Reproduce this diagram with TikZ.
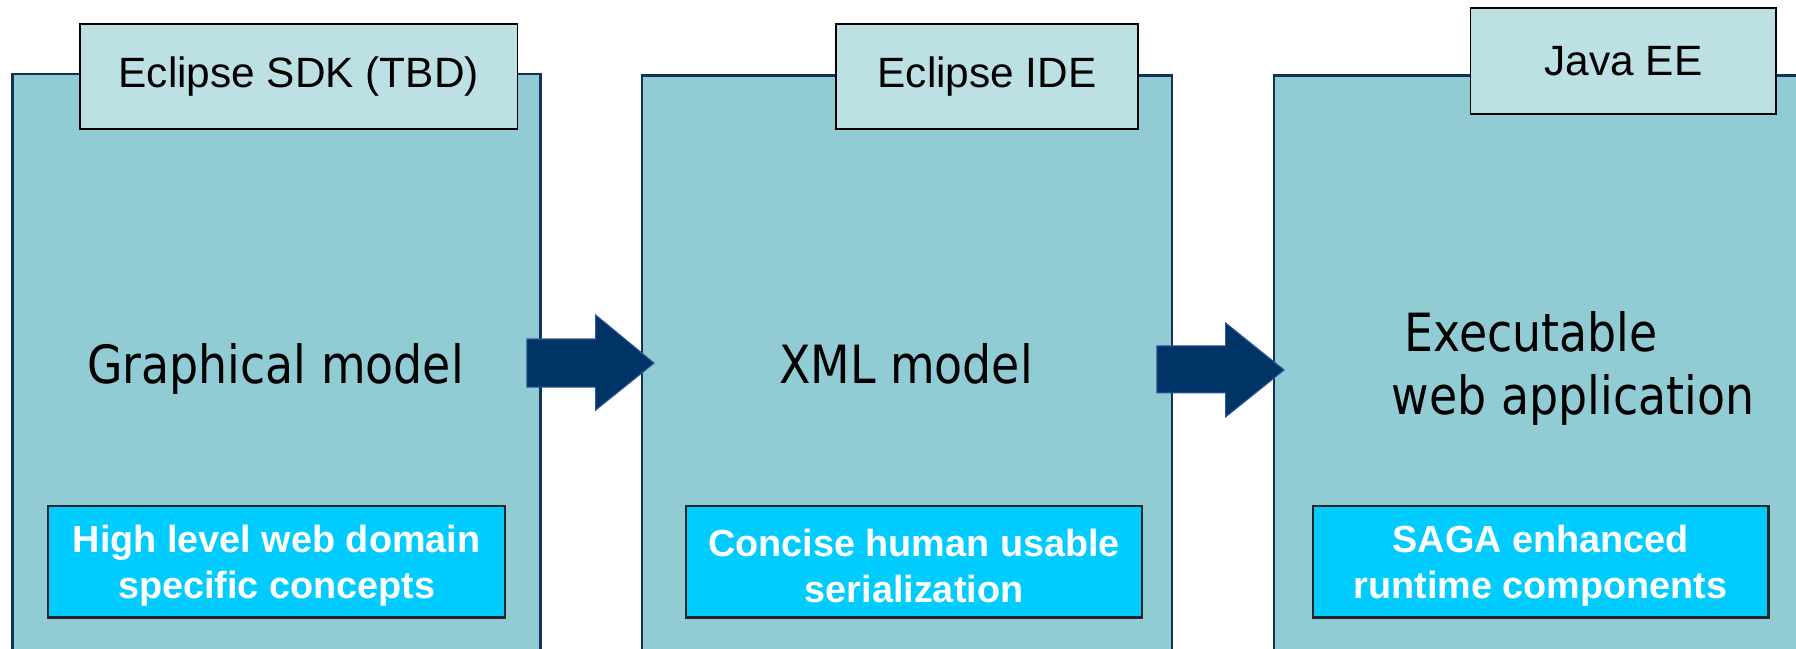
\documentclass[tikz,border=0pt]{standalone}
\usepackage{fontspec}
\setmainfont{Liberation Sans}
\newfontfamily\bigfont[FakeStretch=0.87]{DejaVu Sans}
\definecolor{boxfill}{HTML}{91CBD3}
\definecolor{tabfill}{HTML}{BDE0E4}
\definecolor{innerfill}{HTML}{00CCFF}
\definecolor{navy}{HTML}{003366}
\definecolor{boxline}{HTML}{12325A}
\definecolor{arrowline}{HTML}{2F5597}
\begin{document}
\begin{tikzpicture}[x=1pt,y=-1pt,
  panel/.style={draw=boxline, line width=1.8pt, fill=boxfill, rectangle, anchor=north west, inner sep=0pt},
  tab/.style={draw=black, line width=1.6pt, fill=tabfill, rectangle, anchor=north west, inner sep=0pt},
  inner/.style={draw=black!85, line width=2pt, fill=innerfill, rectangle, anchor=north west, inner sep=0pt, minimum width=398pt, minimum height=97pt},
  tablabel/.style={font=\fontsize{37}{44}\selectfont, inner sep=0pt},
  biglabel/.style={font=\bigfont\fontsize{46}{55}\selectfont, inner sep=0pt},
  boldlabel/.style={font=\fontsize{33}{40}\selectfont\bfseries, text=white, align=center, inner sep=0pt},
  blockarrow/.style={fill=navy, draw=arrowline, line width=1pt, line join=miter}
]
\useasboundingbox (0,0) rectangle (1568,566);
\clip (0,0) rectangle (1568,566);
\fill[white] (0,0) rectangle (1568,566);

% panels
\node[panel, minimum width=461pt, minimum height=560pt] (p1) at (10,63.5) {};
\node[panel, minimum width=462pt, minimum height=560pt] (p2) at (560,65) {};
\node[panel, minimum width=520pt, minimum height=560pt] (p3) at (1111,65) {};

% tabs
\node[tab, minimum width=382pt, minimum height=92pt] (t1) at (69,20) {};
\node[tab, minimum width=264pt, minimum height=92pt] (t2) at (729,20) {};
\node[tab, minimum width=267pt, minimum height=92pt] (t3) at (1283,6.5) {};
\node[tablabel] (l1) at (t1.center) {Eclipse SDK (TBD)};
\node[tablabel] (l2) at (t2.center) {Eclipse IDE};
\node[tablabel] (l3) at (t3.center) {Java EE};

% main labels
\node[biglabel, anchor=base] (m1) at (240.5,335) {Graphical model};
\node[biglabel, anchor=base] (m2) at (791,335) {XML model};
\node[biglabel, anchor=base west] (m3a) at (1226,307) {Executable};
\node[biglabel, anchor=base west] (m3b) at (1215,362) {web application};

% inner boxes
\node[inner, minimum width=399pt] (i1) at (41,441) {};
\node[inner] (i2) at (598,441) {};
\node[inner] (i3) at (1145,441) {};
\node[boldlabel] (b1) at ([yshift=-3.5pt]i1.center) {High level web domain\\specific concepts};
\node[boldlabel] (b2) at ([yshift=-3.5pt]i2.center) {Concise human usable\\serialization};
\node[boldlabel] (b3) at ([yshift=-3.5pt]i3.center) {SAGA enhanced\\runtime components};

% block arrows
\draw[blockarrow] (460,296) -- (520,296) -- (520,275) -- (571,317) -- (520,358) -- (520,338) -- (460,338) -- cycle;
\draw[blockarrow] (1010,302) -- (1070,302) -- (1070,282) -- (1121,323) -- (1070,364) -- (1070,343) -- (1010,343) -- cycle;
\end{tikzpicture}
\end{document}
